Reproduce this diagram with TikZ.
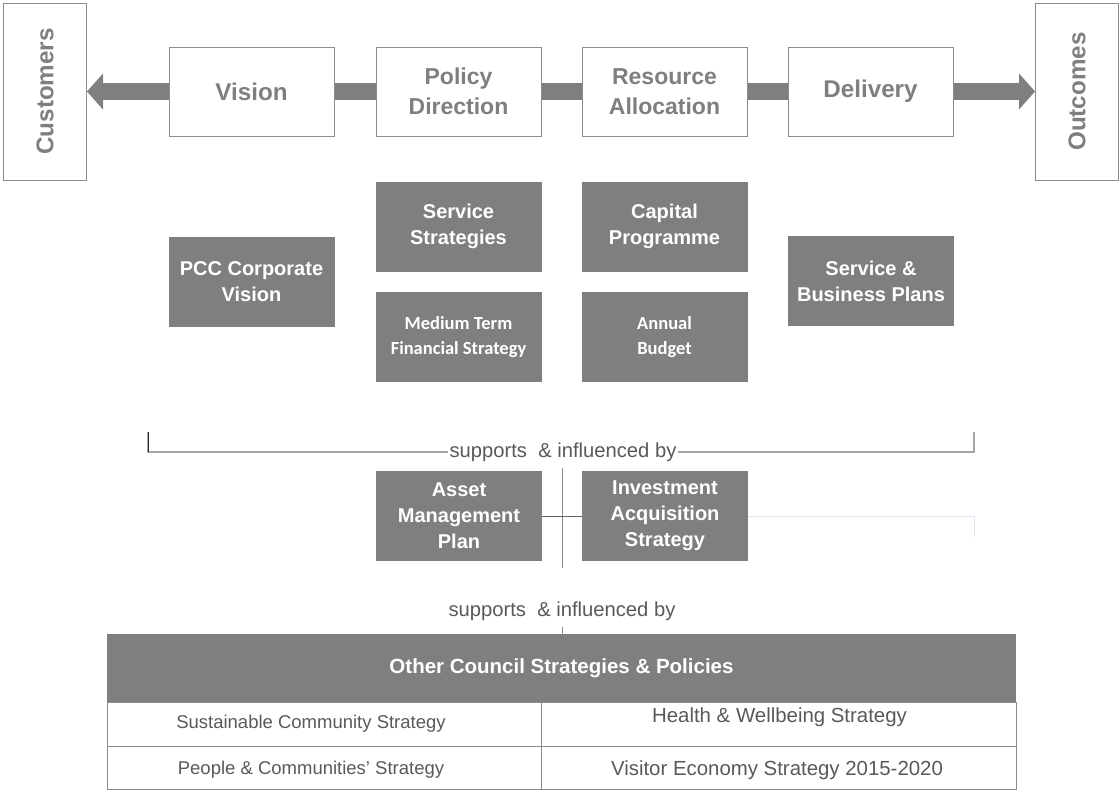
\documentclass[tikz,border=0pt]{standalone}
\usepackage{fontspec}
\setmainfont{Liberation Sans}
\newfontfamily\carlito{Carlito}
\usetikzlibrary{arrows.meta}

\definecolor{boxgrey}{HTML}{7F7F7F}
\definecolor{framegrey}{HTML}{8C8C8C}
\definecolor{textgrey}{HTML}{595959}
\definecolor{rulegrey}{HTML}{A6A6A6}
\definecolor{paleblue}{HTML}{DCE6F2}

\tikzset{
  stage/.style={draw=framegrey,line width=1pt,fill=white,minimum width=165pt,minimum height=89pt,
    align=center,text=boxgrey,font=\bfseries\fontsize{23}{30}\selectfont},
  bigstage/.style={stage,font=\bfseries\fontsize{24.2}{30}\selectfont},
  endbox/.style={draw=framegrey,line width=1pt,fill=white,minimum width=83pt,minimum height=177pt},
  endtext/.style={rotate=90,text=boxgrey,font=\bfseries\fontsize{24.2}{28}\selectfont},
  darkbox/.style={fill=boxgrey,minimum width=166pt,minimum height=90pt,align=center,
    text=white,font=\bfseries\fontsize{20}{26}\selectfont},
  flow/.style={draw=boxgrey,line width=17pt},
  cell/.style={draw=framegrey,line width=1pt,minimum height=44pt},
  celltext/.style={anchor=base,text=textgrey,font=\fontsize{18.5}{22}\selectfont},
  widetext/.style={celltext,font=\fontsize{20.4}{24}\selectfont},
  note/.style={fill=white,inner sep=1pt,text=textgrey,font=\fontsize{20.2}{24}\selectfont}
}

\begin{document}
\begin{tikzpicture}[x=1pt,y=-1pt]
        \useasboundingbox (0,0) rectangle (1119,790);

        % customers and outcomes at both ends
        \node[endbox] (cust) at (45,91.5) {};
        \node[endtext] (custlabel) at (cust) {Customers};
        \node[endbox] (outc) at (1077,91.5) {};
        \node[endtext] (outclabel) at (outc) {Outcomes};

        % the four stages
        \node[bigstage] (vision) at (251.5,91.5) {Vision};
        \node[stage] (policy) at (458.5,91.5) {Policy\\Direction};
        \node[stage] (resource) at (664.5,91.5) {Resource\\Allocation};
        \node[bigstage] (delivery) at (870.5,91.5) {Delivery};

        \foreach \a/\b in {vision/policy,policy/resource,resource/delivery} {
                \draw[flow] (\a.east) -- (\b.west);
            }
        \draw[flow,-{Triangle[width=36pt,length=16pt,line width=0pt]}] (vision.west) -- (cust.east);
        \draw[flow,-{Triangle[width=36pt,length=16pt,line width=0pt]}] (delivery.east) -- (outc.west);

        % documents under each stage
        \node[darkbox] (pcc) at (251.5,282) {PCC Corporate\\Vision};
        \node[darkbox] (svcstrat) at (458.5,226.5) {Service\\Strategies};
        \node[darkbox,font=\carlito\bfseries\fontsize{18.5}{25}\selectfont] (mtfs) at (458.5,337) {Medium Term\\Financial Strategy};
        \node[darkbox] (capital) at (664.5,226.5) {Capital\\Programme};
        \node[darkbox,font=\carlito\bfseries\fontsize{18.5}{25}\selectfont] (budget) at (664.5,337) {Annual\\Budget};
        \node[darkbox] (sbp) at (871,281) {Service \&\\Business Plans};

        % bracket
        \coordinate (brl) at (148,432);
        \coordinate (brr) at (974,432);
        \node[note] (sup1) at (563,452) {supports~~\& influenced by};
        \draw[rulegrey,line width=1.5pt] (brl) |- (sup1) -| (brr);
        \draw[black!85,line width=1pt] (brl) -- ++(0,20);

        % asset plans
        \node[darkbox] (asset) at (459,516) {Asset\\Management\\Plan};
        \node[darkbox] (invest) at (665,516) {Investment\\Acquisition\\Strategy};
        \coordinate (spinetop) at (562,468);
        \coordinate (spinebot) at (562,568);
        \draw[framegrey,line width=1pt] (spinetop) -- (spinebot);
        \draw[boxgrey!80!black,line width=1pt] (asset.east) -- (invest.west);
        \coordinate (faintend) at (974,537);
        \draw[paleblue,line width=1pt] (invest.east) -| (faintend);

        \node[note] (sup2) at (562,611) {supports~~\& influenced by};
        \coordinate (tick) at (562,627);

        % other strategies table
        \node[fill=boxgrey,minimum width=909pt,minimum height=68pt,text=white,
            font=\bfseries\fontsize{20.5}{24}\selectfont] (hdr) at (561.5,668) {Other Council Strategies \& Policies};
        \draw[framegrey,line width=1pt] (tick) -- (tick |- hdr.north);
        \node[cell,minimum width=434pt] (c11) at (324,724) {};
        \node[cell,minimum width=475pt] (c12) at (778.5,724) {};
        \node[cell,minimum width=434pt,minimum height=43pt] (c21) at (324,767.5) {};
        \node[cell,minimum width=475pt,minimum height=43pt] (c22) at (778.5,767.5) {};
        \node[celltext] (sust) at (311,728) {Sustainable Community Strategy};
        \node[widetext] (health) at (779.5,722) {Health \& Wellbeing Strategy};
        \node[celltext] (people) at (311,774) {People \& Communities’ Strategy};
        \node[widetext] (visitor) at (777,775) {Visitor Economy Strategy 2015-2020};
    \end{tikzpicture}
\end{document}
